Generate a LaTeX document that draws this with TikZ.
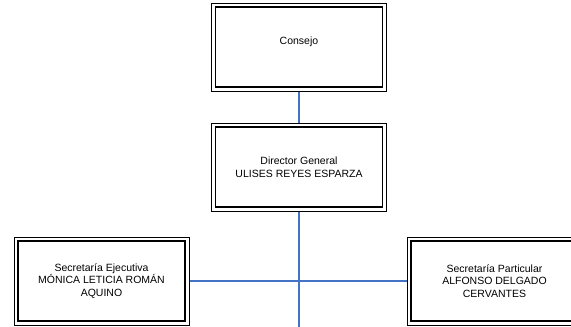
\documentclass[tikz,border=0pt]{standalone}
\usepackage{fontspec}
\setmainfont{Liberation Sans}
\definecolor{connblue}{HTML}{4472C4}
\begin{document}
\begin{tikzpicture}[x=1pt,y=-1pt,
  orgbox/.style={draw=black, line width=1pt, fill=white, minimum width=175pt, minimum height=88pt,
    inner sep=0pt, align=center, font=\fontsize{10.5}{12.5}\selectfont,
    path picture={\draw[line width=1.5pt] ([shift={(4pt,-4pt)}]path picture bounding box.north west) rectangle ([shift={(-4pt,4pt)}]path picture bounding box.south east);}},
  conn/.style={draw=connblue, line width=1.6pt}]
\useasboundingbox (0,0) rectangle (571,327);
\clip (0,0) rectangle (571,327);
\node[orgbox] (consejo) at (299,47) {};
\node[font=\fontsize{10.5}{12.5}\selectfont] (consejotext) at (299,42) {Consejo};
\node[orgbox] (director) at (299,167) {Director General\\ULISES REYES ESPARZA};
\node[orgbox] (ejecutiva) at (101.5,281) {Secretaría Ejecutiva\\MÓNICA LETICIA ROMÁN\\AQUINO};
\node[orgbox] (particular) at (494.5,281) {Secretaría Particular\\ALFONSO DELGADO\\CERVANTES};
\coordinate (bottom) at (299,327);
\draw[conn] (consejo.south) -- (director.north);
\draw[conn] (director.south) -- (bottom);
\draw[conn] (ejecutiva.east) -- (particular.west);
\end{tikzpicture}
\end{document}
